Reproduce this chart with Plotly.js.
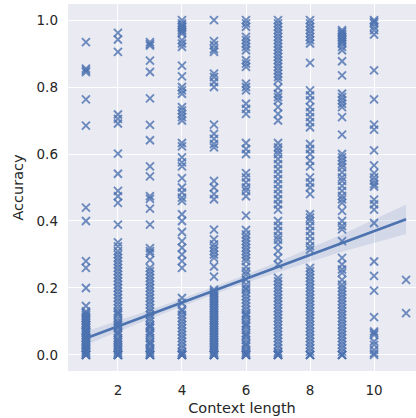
<!DOCTYPE html>
<html>
<head>
<meta charset="utf-8">
<script src="https://cdn.plot.ly/plotly-3.0.1.min.js"></script>
<style>html,body{margin:0;padding:0;background:#fff;}#chart{width:416px;height:418px;}</style>
</head>
<body>
<div id="chart"></div>
<script>
// Context length categories
const contextLengths = [1, 2, 3, 4, 5, 6, 7, 8, 9, 10, 11];

// Accuracy values per context length
const acc1 = [0.934,0.855,0.85,0.845,0.763,0.685,0.44,0.40,0.28,0.26,0.20,0.146,0.13,0.125,0.12,0.115,0.11,0.105,0.10,0.095,0.09,0.085,0.08,0.075,0.07,0.065,0.06,0.055,0.05,0.045,0.04,0.035,0.03,0.025,0.02,0.015,0.01,0.005,0,0,0,0,0.01,0.02,0.03,0.05,0.07,0.09,0.11];
const acc2 = [0.962,0.942,0.905,0.718,0.705,0.691,0.601,0.541,0.49,0.474,0.454,0.389,0.336,0.324,0.31,0.30,0.29,0.28,0.27,0.26,0.25,0.24,0.23,0.22,0.21,0.20,0.19,0.18,0.17,0.16,0.15,0.14,0.13,0.125,0.12,0.11,0.10,0.095,0.09,0.085,0.08,0.07,0.065,0.06,0.05,0.045,0.04,0.03,0.025,0.02,0.01,0.005,0,0,0,0,0.015,0.035];
const acc3 = [0.934,0.928,0.924,0.879,0.845,0.766,0.687,0.641,0.563,0.533,0.474,0.466,0.437,0.389,0.319,0.31,0.304,0.284,0.26,0.25,0.24,0.23,0.22,0.21,0.20,0.19,0.18,0.17,0.16,0.15,0.14,0.13,0.12,0.11,0.10,0.09,0.085,0.08,0.07,0.065,0.06,0.05,0.04,0.035,0.03,0.02,0.015,0.01,0.005,0,0,0,0];
const acc4 = [1.0,0.99,0.985,0.98,0.975,0.97,0.965,0.96,0.94,0.93,0.92,0.864,0.832,0.80,0.79,0.78,0.74,0.73,0.72,0.71,0.70,0.633,0.623,0.59,0.575,0.563,0.528,0.50,0.485,0.47,0.46,0.42,0.40,0.367,0.34,0.32,0.30,0.28,0.26,0.17,0.155,0.135,0.13,0.12,0.11,0.10,0.09,0.08,0.07,0.06,0.05,0.04,0.03,0.02,0.01,0.005,0,0,0,0];
const acc5 = [1.0,0.937,0.925,0.913,0.905,0.84,0.83,0.815,0.80,0.688,0.66,0.645,0.63,0.62,0.52,0.50,0.48,0.465,0.374,0.345,0.33,0.32,0.31,0.30,0.29,0.264,0.234,0.195,0.19,0.185,0.18,0.175,0.17,0.165,0.16,0.155,0.15,0.145,0.14,0.135,0.13,0.125,0.12,0.115,0.11,0.105,0.10,0.095,0.09,0.085,0.08,0.075,0.07,0.065,0.06,0.055,0.05,0.045,0.04,0.035,0.03,0.025,0.02,0.015,0.01,0.005,0,0,0,0,0];
const acc6 = [1.0,0.99,0.98,0.95,0.94,0.93,0.92,0.91,0.88,0.87,0.86,0.81,0.80,0.79,0.75,0.735,0.72,0.633,0.615,0.60,0.543,0.53,0.515,0.50,0.49,0.474,0.416,0.373,0.36,0.35,0.34,0.33,0.32,0.31,0.30,0.29,0.28,0.263,0.25,0.24,0.225,0.21,0.20,0.195,0.185,0.175,0.165,0.155,0.145,0.135,0.125,0.115,0.105,0.095,0.085,0.075,0.065,0.055,0.045,0.035,0.025,0.015,0.01,0.005,0,0,0,0,0.03,0.06,0.09,0.12];
const acc7 = [1.0,0.99,0.98,0.97,0.96,0.95,0.94,0.93,0.92,0.91,0.90,0.89,0.88,0.87,0.86,0.85,0.84,0.83,0.82,0.798,0.78,0.77,0.76,0.74,0.72,0.70,0.633,0.62,0.61,0.60,0.585,0.57,0.555,0.54,0.525,0.51,0.495,0.48,0.465,0.45,0.434,0.40,0.385,0.37,0.355,0.344,0.33,0.31,0.29,0.27,0.23,0.22,0.21,0.20,0.19,0.18,0.17,0.16,0.15,0.14,0.13,0.12,0.11,0.10,0.09,0.08,0.07,0.06,0.05,0.04,0.03,0.02,0.01,0.005,0,0,0,0];
const acc8 = [1.0,0.99,0.98,0.97,0.96,0.95,0.94,0.93,0.872,0.79,0.775,0.76,0.74,0.725,0.71,0.695,0.68,0.63,0.615,0.60,0.58,0.563,0.53,0.515,0.50,0.48,0.42,0.41,0.40,0.385,0.37,0.355,0.34,0.325,0.314,0.26,0.25,0.24,0.23,0.22,0.21,0.20,0.19,0.18,0.17,0.16,0.15,0.14,0.13,0.12,0.11,0.10,0.09,0.08,0.07,0.06,0.05,0.04,0.03,0.02,0.01,0,0,0];
const acc9 = [0.97,0.965,0.96,0.955,0.95,0.945,0.94,0.935,0.93,0.92,0.91,0.877,0.835,0.78,0.77,0.76,0.75,0.74,0.71,0.658,0.60,0.59,0.58,0.57,0.56,0.545,0.53,0.52,0.505,0.49,0.475,0.465,0.454,0.43,0.40,0.385,0.375,0.34,0.29,0.27,0.255,0.245,0.224,0.21,0.20,0.19,0.18,0.17,0.16,0.15,0.14,0.13,0.12,0.11,0.10,0.09,0.08,0.07,0.06,0.05,0.04,0.03,0.02,0.01,0,0,0];
const acc10 = [1.0,0.995,0.99,0.98,0.97,0.957,0.85,0.763,0.688,0.673,0.611,0.566,0.543,0.53,0.52,0.51,0.503,0.464,0.45,0.434,0.394,0.279,0.236,0.192,0.113,0.07,0.065,0.06,0.04,0.03,0.015,0.005,0];
const acc11 = [0.224,0.125];
const accuracyByLength = [acc1, acc2, acc3, acc4, acc5, acc6, acc7, acc8, acc9, acc10, acc11];

// Regression line
const fitX = [1, 11];
const fitY = [0.05, 0.405];
// Confidence band
const bandX = [1, 2, 3, 4, 5, 6, 7, 8, 9, 10, 11];
const bandUpper = [0.07, 0.1015, 0.134, 0.1675, 0.203, 0.2395, 0.278, 0.3185, 0.36, 0.4045, 0.449];
const bandLower = [0.03, 0.0695, 0.108, 0.1455, 0.181, 0.2155, 0.248, 0.2785, 0.308, 0.3345, 0.361];

const yTicks = [0, 0.2, 0.4, 0.6, 0.8, 1.0];
const xTicks = [2, 4, 6, 8, 10];

const xs = [], ys = [];
contextLengths.forEach((c, i) => {
  accuracyByLength[i].forEach(v => { xs.push(c); ys.push(v); });
});

const blue = '#4C72B0';
const font = 'DejaVu Sans, sans-serif';

const traces = [
  {
    type: 'scatter', mode: 'markers', x: xs, y: ys,
    marker: { symbol: 'x-thin', size: 8, color: blue, opacity: 0.8,
              line: { color: blue, width: 1.9 } },
    hoverinfo: 'skip', showlegend: false
  },
  {
    type: 'scatter', mode: 'lines',
    x: bandX.concat(bandX.slice().reverse()),
    y: bandUpper.concat(bandLower.slice().reverse()),
    fill: 'toself', fillcolor: 'rgba(76,114,176,0.15)',
    line: { width: 0 }, hoverinfo: 'skip', showlegend: false
  },
  {
    type: 'scatter', mode: 'lines', x: fitX, y: fitY,
    line: { color: blue, width: 2.6 }, hoverinfo: 'skip', showlegend: false
  }
];

const layout = {
  width: 416, height: 418,
  margin: { l: 68, r: 0, t: 4, b: 47 },
  paper_bgcolor: '#ffffff', plot_bgcolor: '#EAEAF2',
  font: { family: font, color: '#262626' },
  showlegend: false,
  xaxis: {
    range: [0.44, 11.31], tickvals: xTicks, ticktext: xTicks.map(String),
    showgrid: true, gridcolor: '#ffffff', gridwidth: 1, zeroline: false,
    showline: false, ticks: '', ticklabelstandoff: 9,
    tickfont: { size: 13.5, family: font, color: '#262626' },
    title: { text: 'Context length', font: { size: 14.5, family: font, color: '#262626' }, standoff: 6 }
  },
  yaxis: {
    range: [-0.048, 1.048], tickvals: yTicks, ticktext: yTicks.map(v => v.toFixed(1)),
    showgrid: true, gridcolor: '#ffffff', gridwidth: 1, zeroline: false,
    showline: false, ticks: '', ticklabelstandoff: 9,
    tickfont: { size: 13.5, family: font, color: '#262626' },
    title: { text: 'Accuracy', font: { size: 14.5, family: font, color: '#262626' }, standoff: 9 }
  }
};

Plotly.newPlot('chart', traces, layout, { staticPlot: true, displayModeBar: false });
</script>
</body>
</html>
